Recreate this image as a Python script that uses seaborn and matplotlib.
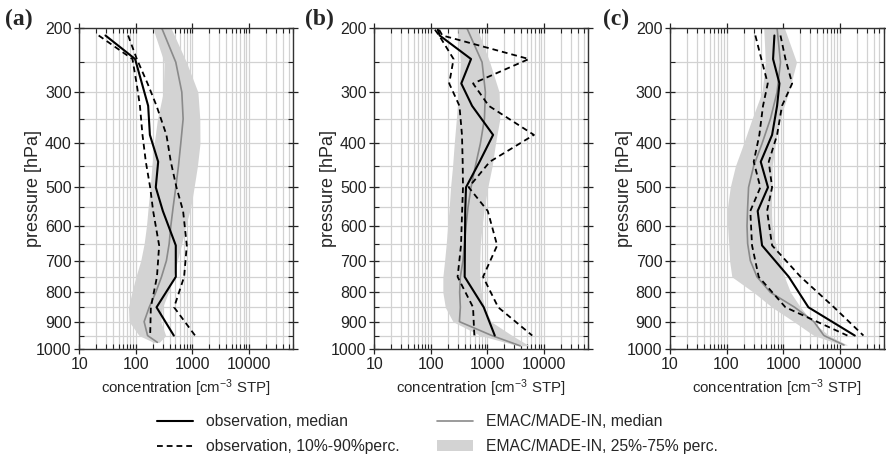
import numpy as np
import matplotlib
matplotlib.use('Agg')
import matplotlib.pyplot as plt
import seaborn as sns
from matplotlib.ticker import FixedLocator, FixedFormatter, LogLocator, NullFormatter
from matplotlib.lines import Line2D
from matplotlib.patches import Patch

sns.set_style('ticks')
plt.rcParams['font.family'] = ['Liberation Sans', 'DejaVu Sans']
plt.rcParams['mathtext.fontset'] = 'custom'
plt.rcParams['mathtext.rm'] = 'Liberation Sans'
plt.rcParams['mathtext.it'] = 'Liberation Sans:italic'
plt.rcParams['mathtext.bf'] = 'Liberation Sans:bold'

# ---------------- data ----------------
panel_labels = ['(a)', '(b)', '(c)']
x_ticks = [10, 100, 1000, 10000]
x_tick_labels = ['10', '100', '1000', '10000']
y_ticks = [200, 300, 400, 500, 600, 700, 800, 900, 1000]
y_minor = [250, 350, 450, 550, 650, 750, 850, 950]

# observations (pressure levels in hPa, concentrations in cm-3 STP)
obs_p_a = [210, 245, 285, 325, 382, 440, 500, 560, 655, 750, 850, 950]
obs_med_a = [29, 97, 128, 165, 177, 248, 225, 300, 508, 508, 232, 469]
obs_p10_a = [22, 87, 103, 118, 131, 150, 179, 202, 258, 236, 184, 179]
obs_p90_a = [73, 104, 161, 232, 347, 415, 522, 684, 795, 713, 474, 1114]

obs_p_b = [202, 210, 245, 285, 325, 382, 440, 500, 560, 655, 750, 850, 950]
obs_med_b = [133, 143, 513, 345, 535, 1259, 726, 418, 405, 400, 396, 861, 1349]
obs_p10_b = [118, 140, 252, 211, 320, 355, 365, 370, 357, 341, 297, 557, 587]
obs_p90_b = [140, 160, 5400, 557, 1057, 6640, 1100, 467, 1014, 1486, 837, 1550, 6200]

obs_p_c = [210, 245, 285, 325, 382, 440, 500, 560, 655, 750, 850, 950]
obs_med_c = [701, 664, 861, 782, 638, 402, 540, 355, 424, 1259, 2800, 18500]
obs_p10_c = [323, 412, 535, 441, 380, 302, 396, 263, 282, 370, 1100, 13700]
obs_p90_c = [898, 1099, 1445, 955, 782, 557, 638, 520, 638, 2040, 7940, 26300]

# model EMAC/MADE-IN
mod_p_a = [200, 250, 300, 350, 400, 450, 500, 550, 600, 650, 700, 750, 800, 850, 900, 950, 975]
mod_med_a = [288, 508, 649, 685, 622, 566, 508, 456, 415, 388, 347, 284, 225, 172, 140, 161, 240]
mod_q25_a = [200, 316, 305, 241, 211, 192, 179, 165, 154, 140, 122, 100, 85, 74, 76, 114, 205]
mod_q75_a = [420, 783, 1250, 1350, 1360, 1225, 1070, 935, 762, 646, 543, 456, 377, 296, 276, 337, 260]

mod_p_b = [200, 250, 300, 350, 400, 450, 500, 550, 600, 650, 700, 750, 800, 850, 900, 950, 988]
mod_med_b = [435, 804, 920, 885, 751, 612, 513, 454, 418, 392, 370, 332, 323, 332, 320, 1200, 3800]
mod_q25_b = [297, 332, 310, 282, 259, 242, 223, 211, 198, 187, 175, 163, 163, 180, 246, 751, 3500]
mod_q75_b = [656, 1099, 1610, 1655, 1388, 1211, 1014, 885, 804, 751, 731, 731, 782, 885, 1161, 2740, 5500]

mod_p_c = [200, 250, 300, 350, 400, 450, 500, 550, 600, 650, 700, 750, 800, 850, 900, 950, 985]
mod_med_c = [782, 898, 782, 596, 424, 301, 245, 236, 230, 236, 263, 345, 596, 1600, 3500, 5270, 11900]
mod_q25_c = [454, 486, 424, 282, 200, 143, 116, 104, 104, 109, 113, 124, 301, 638, 1550, 3500, 11000]
mod_q75_c = [1057, 1725, 1260, 873, 731, 638, 638, 612, 638, 731, 898, 1057, 1350, 2030, 3270, 6470, 13700]

panels = [
    (obs_p_a, obs_med_a, obs_p10_a, obs_p90_a, mod_p_a, mod_med_a, mod_q25_a, mod_q75_a),
    (obs_p_b, obs_med_b, obs_p10_b, obs_p90_b, mod_p_b, mod_med_b, mod_q25_b, mod_q75_b),
    (obs_p_c, obs_med_c, obs_p10_c, obs_p90_c, mod_p_c, mod_med_c, mod_q25_c, mod_q75_c),
]

# ---------------- figure ----------------
W, H = 886, 457
fig = plt.figure(figsize=(W / 100, H / 100), dpi=100)

EXP = 0.37
def fwd(p):
    p = np.asarray(p, dtype=float)
    return np.sign(p) * np.abs(p) ** EXP
def inv(v):
    v = np.asarray(v, dtype=float)
    return np.sign(v) * np.abs(v) ** (1.0 / EXP)

lefts = [79.3, 374.3, 670.0]
ax_w = 213.7
ax_top, ax_bot = 28.3, 349.0
label_x = [5, 305, 603]

grid_col = '#d2d2d2'
shade_col = '#d3d3d3'
model_col = '#8a8a8a'
dash = (0, (3.2, 2.2))

for i, (op, om, o10, o90, mp, mm, mq25, mq75) in enumerate(panels):
    ax = fig.add_axes([lefts[i] / W, 1 - ax_bot / H, ax_w / W, (ax_bot - ax_top) / H])
    ax.set_xscale('log')
    ax.set_yscale('function', functions=(fwd, inv))

    ax.fill_betweenx(mp, mq25, mq75, color=shade_col, lw=0, zorder=1)
    sns.lineplot(x=mm, y=mp, orient='y', sort=False, estimator=None, ax=ax,
                 color=model_col, lw=1.2, zorder=2)
    sns.lineplot(x=o10, y=op, orient='y', sort=False, estimator=None, ax=ax,
                 color='black', lw=1.3, linestyle=dash, zorder=3)
    sns.lineplot(x=o90, y=op, orient='y', sort=False, estimator=None, ax=ax,
                 color='black', lw=1.3, linestyle=dash, zorder=3)
    sns.lineplot(x=om, y=op, orient='y', sort=False, estimator=None, ax=ax,
                 color='black', lw=1.5, zorder=4)

    ax.set_xlim(10, 60000)
    ax.set_ylim(1000, 200)

    ax.xaxis.set_major_locator(FixedLocator(x_ticks))
    ax.xaxis.set_major_formatter(FixedFormatter(x_tick_labels))
    ax.xaxis.set_minor_locator(LogLocator(base=10, subs=np.arange(2, 10), numticks=20))
    ax.xaxis.set_minor_formatter(NullFormatter())
    ax.yaxis.set_major_locator(FixedLocator(y_ticks))
    ax.yaxis.set_major_formatter(FixedFormatter([str(v) for v in y_ticks]))
    ax.yaxis.set_minor_locator(FixedLocator(y_minor))
    ax.yaxis.set_minor_formatter(NullFormatter())

    ax.set_axisbelow(True)
    ax.grid(True, which='both', color=grid_col, lw=0.9, zorder=0)

    ax.tick_params(which='major', direction='inout', length=7, width=0.9,
                   top=True, right=True, labelsize=11.5, colors='#222222', pad=2)
    ax.tick_params(which='minor', direction='in', length=3.5, width=0.8,
                   top=True, right=True, colors='#222222')
    for s in ax.spines.values():
        s.set_color('#333333')
        s.set_linewidth(1.0)

    ax.set_xlabel('concentration [cm$^{\\mathregular{-3}}$ STP]', fontsize=10.8, labelpad=4)
    ax.set_ylabel('pressure [hPa]', fontsize=13)
    ax.yaxis.set_label_coords(-37 / ax_w, 0.5)

    fig.text(label_x[i] / W, 1 - 19 / H, panel_labels[i], fontsize=17,
             fontweight='bold', family=['Liberation Serif', 'DejaVu Serif'],
             ha='left', va='center')

handles = [
    Line2D([], [], color='black', lw=1.5),
    Line2D([], [], color='black', lw=1.3, linestyle=dash),
    Line2D([], [], color=model_col, lw=1.2),
    Patch(facecolor=shade_col, edgecolor='none'),
]
labels = ['observation, median', 'observation, 10%-90%perc.',
          'EMAC/MADE-IN, median', 'EMAC/MADE-IN, 25%-75% perc.']
fig.legend(handles, labels, ncol=2, loc='upper left',
           bbox_to_anchor=(157 / W, 1 - 414 / H), frameon=False,
           fontsize=11.3, handlelength=2.3, handletextpad=0.8,
           columnspacing=2.4, labelspacing=0.64, borderpad=0, borderaxespad=0)

fig.savefig('out.png', dpi=100)
